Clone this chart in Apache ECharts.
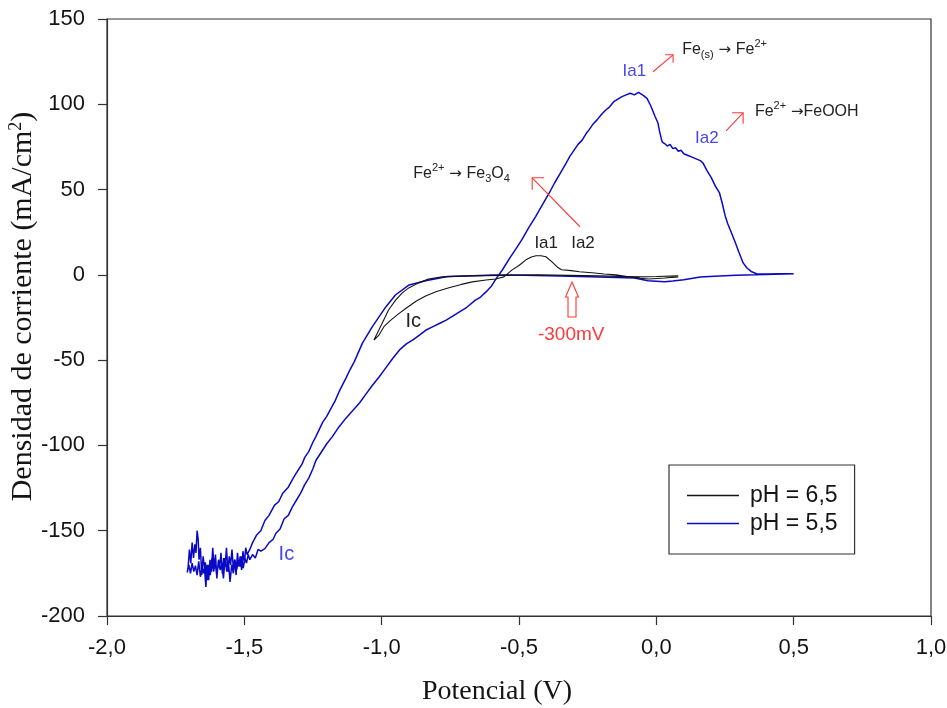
<!DOCTYPE html>
<html><head><meta charset="utf-8">
<script src="https://cdn.jsdelivr.net/npm/echarts@6/dist/echarts.min.js"></script>
<style>html,body{margin:0;padding:0;background:#fff}#c{width:947px;height:708px}</style>
</head><body><div id="c"></div>
<script>
// ---------- data ----------
const xTickValues = [-2.0, -1.5, -1.0, -0.5, 0.0, 0.5, 1.0];
const yTickValues = [-200, -150, -100, -50, 0, 50, 100, 150];
const seriesNames = ['pH = 6,5', 'pH = 5,5'];

// pH 6,5 cyclic voltammogram (black)
const ph65Potential = [0.08,0.00,-0.06,-0.21,-0.43,-0.69,-0.78,-0.83,-0.865,-0.90,-0.925,-0.95,-0.975,-1.00,-1.028,
  -1.01,-0.99,-0.97,-0.94,-0.91,-0.875,-0.84,-0.80,-0.755,-0.71,-0.67,-0.62,-0.585,-0.555,-0.525,-0.50,-0.475,-0.455,-0.438,-0.42,-0.402,-0.38,-0.36,-0.345,-0.31,-0.28,-0.234,-0.19,-0.147,-0.10,-0.06,-0.027,0.03,0.08];
const ph65Current = [-0.6,-1.0,-1.2,-0.6,0.0,-0.6,-1.2,-2.5,-4.7,-7.5,-10.6,-15.0,-20.6,-29.0,-38.2,
  -35.3,-30.0,-27.0,-23.0,-19.4,-15.5,-12.4,-9.8,-7.6,-5.6,-4.1,-3.0,-2.4,-1.2,2.9,5.5,8.8,10.5,11.2,11.2,10.6,7.6,4.5,3.0,2.5,1.8,1.2,0.5,0.0,-1.2,-2.0,-2.4,-1.8,-1.2];

// pH 5,5 cyclic voltammogram (blue)
const ph55Potential = [0.50,0.43,0.36,0.29,0.23,0.16,0.10,0.06,0.03,-0.03,-0.08,-0.21,-0.35,-0.57,-0.69,-0.76,-0.84,-0.90,-0.95,-0.985,-1.035,-1.07,
  -1.10,-1.115,-1.13,-1.155,-1.17,-1.18,-1.20,-1.215,-1.24,-1.25,-1.265,-1.28,-1.29,-1.31,-1.325,-1.34,-1.36,-1.375,-1.39,-1.41,-1.425,-1.44,-1.455,-1.47,-1.48,-1.49,
  -1.495,-1.50,-1.505,-1.51,-1.515,-1.52,-1.525,-1.53,-1.535,-1.54,-1.545,-1.55,-1.555,-1.56,-1.565,-1.57,-1.575,-1.58,-1.585,-1.59,-1.595,-1.60,-1.605,-1.61,-1.615,-1.62,-1.625,-1.63,-1.635,-1.64,-1.645,-1.65,-1.655,-1.66,-1.665,-1.668,-1.672,-1.676,-1.68,-1.685,-1.69,-1.695,-1.70,-1.705,-1.71,
  -1.708,-1.702,-1.696,-1.69,-1.684,-1.678,-1.672,-1.666,-1.66,-1.654,-1.648,-1.642,-1.636,-1.63,-1.624,-1.618,-1.612,-1.606,-1.6,-1.594,-1.588,-1.582,-1.576,-1.57,-1.564,-1.558,-1.552,-1.546,-1.54,-1.534,-1.528,-1.522,-1.516,-1.51,-1.504,-1.498,-1.492,-1.486,-1.48,-1.47,-1.46,-1.45,-1.44,
  -1.425,-1.41,-1.395,-1.385,-1.37,-1.355,-1.34,-1.325,-1.31,-1.295,-1.28,-1.265,-1.25,-1.24,-1.22,-1.20,-1.18,-1.155,-1.13,-1.105,-1.08,-1.06,-1.035,-1.01,-0.985,-0.96,-0.935,-0.91,-0.885,-0.86,-0.84,-0.815,-0.79,-0.765,-0.74,-0.715,-0.69,-0.66,-0.64,-0.62,-0.60,-0.58,
  -0.56,-0.535,-0.51,-0.49,-0.465,-0.44,-0.415,-0.39,-0.37,-0.35,-0.33,-0.315,-0.30,-0.285,-0.27,-0.255,-0.245,-0.23,-0.215,-0.20,-0.185,-0.17,-0.155,-0.14,-0.125,-0.11,-0.095,-0.08,-0.065,-0.05,
  -0.034,-0.02,-0.005,0.006,0.012,0.021,0.03,0.04,0.05,0.06,0.07,0.08,0.09,0.10,0.115,0.13,0.145,0.16,0.17,0.185,0.20,0.215,0.23,0.24,0.25,0.26,0.27,0.285,0.30,0.316,0.33,0.345,0.367,0.40,0.45,0.50];
const ph55Current = [0.6,0.3,0.0,-0.3,-0.6,-1.2,-2.9,-3.6,-4.1,-3.5,-1.8,-1.2,-0.6,0.0,-0.6,-1.0,-3.5,-5.9,-11.8,-18.8,-30.6,-40.0,
  -51.0,-55.5,-60.5,-68.5,-74.0,-77.0,-83.0,-86.5,-95.0,-98.0,-103.5,-107.0,-111.0,-116.0,-120.0,-124.5,-128.0,-133.0,-135.0,-141.0,-144.0,-150.0,-152.5,-157.0,-161.0,-164.0,
  -160.0,-169.0,-162.0,-173.0,-165.0,-171.0,-163.0,-176.0,-167.0,-172.0,-161.0,-170.0,-165.0,-174.0,-160.0,-171.0,-166.0,-175.0,-163.0,-172.0,-168.0,-178.0,-164.0,-172.0,-160.0,-174.0,-167.0,-179.0,-170.0,-183.0,-172.0,-165.0,-176.0,-160.0,-167.0,-155.0,-150.0,-163.0,-158.0,-166.0,-157.0,-169.0,-161.0,-172.0,-173.0,
  -174.5,-170.0,-175.0,-169.0,-174.0,-170.5,-176.0,-168.0,-177.0,-171.0,-175.0,-168.5,-179.0,-170.0,-176.0,-166.0,-174.0,-169.0,-177.0,-167.0,-173.0,-170.0,-178.0,-166.0,-174.0,-168.0,-180.0,-170.0,-175.0,-167.0,-173.0,-168.0,-171.0,-165.0,-172.0,-166.0,-169.0,-164.0,-167.0,-164.0,-166.0,-161.0,-162.0,
  -160.5,-157.0,-155.0,-151.5,-149.0,-143.0,-141.0,-136.0,-132.0,-128.0,-123.0,-119.0,-113.5,-109.0,-104.0,-99.0,-95.0,-89.0,-84.0,-79.5,-75.0,-70.5,-65.0,-60.0,-54.5,-49.0,-44.0,-40.5,-38.0,-35.0,-32.5,-30.5,-28.5,-26.5,-24.0,-21.5,-19.0,-15.0,-13.0,-10.0,-6.5,-1.5,
  3.0,9.5,15.5,20.5,27.5,34.0,41.0,48.0,54.0,59.5,65.0,69.5,73.0,76.5,79.0,83.0,85.0,88.5,91.0,94.0,96.5,98.5,101.5,103.0,104.5,105.5,106.5,105.5,107.0,105.5,
  103.5,99.0,93.0,89.0,84.0,78.0,77.0,75.5,76.5,74.0,74.5,72.5,73.0,71.0,70.0,69.0,68.0,67.0,65.5,61.0,57.0,52.0,48.0,42.0,35.0,30.0,26.0,20.0,13.5,7.0,4.0,2.0,0.5,0.5,0.6,0.6];

// ---------- styling ----------
const BLUE_LINE = '#0a0ac4';
const BLUE_TEXT = '#4646f0';
const RED = '#ff3838';
const INK = '#141414';
const SANS = '"Liberation Sans", Arial, sans-serif';
const SERIF = '"Liberation Serif", "Times New Roman", serif';

const zip = (xs, ys) => xs.map((x, i) => [x, ys[i]]);

const chart = echarts.init(document.getElementById('c'), null, {renderer: 'canvas'});

chart.setOption({
  animation: false,
  backgroundColor: '#fff',
  grid: {left: 107, right: 16, top: 19, bottom: 92, containLabel: false, outerBoundsMode: 'none',
         show: true, borderColor: '#333', borderWidth: 1.2, backgroundColor: 'transparent'},
  xAxis: {
    type: 'value', min: xTickValues[0], max: xTickValues[xTickValues.length - 1], interval: 0.5,
    name: 'Potencial (V)', nameLocation: 'middle', nameGap: 62, nameMoveOverlap: false,
    nameTextStyle: {fontFamily: SERIF, fontSize: 28, color: INK, padding: [0, 44, 0, 0]},
    axisLine: {onZero: false, lineStyle: {color: '#333', width: 1.2}},
    axisTick: {inside: false, length: 9, lineStyle: {color: '#333', width: 1.2}},
    axisLabel: {margin: 21, fontFamily: SANS, fontSize: 22, color: INK, formatter: v => v.toFixed(1).replace('.', ',')},
    splitLine: {show: false}
  },
  yAxis: {
    type: 'value', min: yTickValues[0], max: yTickValues[yTickValues.length - 1], interval: 50,
    name: '{n|Densidad de corriente (mA/cm}{s|2}{n|)}', nameLocation: 'middle', nameGap: 68, nameMoveOverlap: false,
    nameTextStyle: {fontFamily: SERIF, fontSize: 30, color: INK, padding: [0, 0, 0, 22],
      rich: {n: {fontFamily: SERIF, fontSize: 30, color: INK, lineHeight: 32},
             s: {fontFamily: SERIF, fontSize: 18, color: INK, verticalAlign: 'top', lineHeight: 18}}},
    axisLine: {onZero: false, lineStyle: {color: '#333', width: 1.2}},
    axisTick: {inside: false, length: 9, lineStyle: {color: '#333', width: 1.2}},
    axisLabel: {margin: 22, fontFamily: SANS, fontSize: 22, color: INK},
    splitLine: {show: false}
  },
  legend: {
    data: seriesNames, orient: 'vertical', left: 669, top: 465,
    padding: [19, 17, 19, 18], itemGap: 5, itemWidth: 52, itemHeight: 1.6, icon: 'rect',
    borderColor: '#333', borderWidth: 1.2, backgroundColor: '#fff',
    textStyle: {fontFamily: SANS, fontSize: 23, color: INK, padding: [0, 0, 0, 6]}
  },
  series: [
    {name: seriesNames[1], type: 'line', data: zip(ph55Potential, ph55Current), showSymbol: false, symbol: 'none',
     lineStyle: {color: BLUE_LINE, width: 1.5}, itemStyle: {color: BLUE_LINE}, z: 2},
    {name: seriesNames[0], type: 'line', data: zip(ph65Potential, ph65Current), showSymbol: false, symbol: 'none',
     lineStyle: {color: INK, width: 1.1}, itemStyle: {color: INK}, z: 3}
  ]
});

// ---------- annotations (anchored in data coordinates) ----------
const px = p => chart.convertToPixel({gridIndex: 0}, p);
const richSup = (size) => ({
  n: {fontFamily: SANS, fontSize: size, fill: '#222', lineHeight: size + 6},
  a: {fontFamily: '"DejaVu Sans", sans-serif', fontSize: size - 1, fill: '#222', lineHeight: size + 6},
  sup: {fontFamily: SANS, fontSize: Math.round(size * 0.68), fill: '#222', verticalAlign: 'top', lineHeight: Math.round(size * 0.68)},
  sub: {fontFamily: SANS, fontSize: Math.round(size * 0.68), fill: '#222', verticalAlign: 'bottom', lineHeight: Math.round(size * 0.68)}
});
const g = [];
function label(text, at, color, size, align) {
  const p = px(at);
  g.push({type: 'text', x: p[0], y: p[1], z: 10,
    style: {text, fill: color, font: size + 'px ' + SANS, align: align || 'center', verticalAlign: 'middle'}});
}
function richLabel(text, at, size) {
  const p = px(at);
  g.push({type: 'text', x: p[0], y: p[1], z: 10,
    style: {text, align: 'left', verticalAlign: 'middle', rich: richSup(size), fill: '#222', font: size + 'px ' + SANS}});
}
function arrow(from, to, head) {
  const a = px(from), b = px(to);
  const sx = Math.sign(b[0] - a[0]), sy = Math.sign(b[1] - a[1]);
  g.push({type: 'polyline', z: 10, shape: {points: [a, b]}, style: {stroke: RED, lineWidth: 1.1, fill: null}});
  g.push({type: 'polyline', z: 10, shape: {points: [[b[0] - sx * head, b[1]], b, [b[0], b[1] - sy * head]]},
    style: {stroke: RED, lineWidth: 1.1, fill: null}});
}
function hollowUpArrow(tip, base) {
  const t = px(tip), b = px(base);
  const pts = [t, [t[0] + 6.5, t[1] + 15], [t[0] + 4, t[1] + 15], [t[0] + 4, b[1]], [t[0] - 4, b[1]], [t[0] - 4, t[1] + 15], [t[0] - 6.5, t[1] + 15]];
  g.push({type: 'polygon', z: 10, shape: {points: pts}, style: {stroke: RED, lineWidth: 1.1, fill: null}});
}

label('Ia1', [-0.080, 119.1], BLUE_TEXT, 17);
arrow([-0.012, 119.1], [0.061, 129.0], 8);
richLabel('{n|Fe}{sub|(s)}{a| → }{n|Fe}{sup|2+}', [0.094, 132.0], 16);

label('Ia2', [0.184, 80.3], BLUE_TEXT, 17);
arrow([0.254, 84.4], [0.316, 95.0], 11);
richLabel('{n|Fe}{sup|2+}{a| →}{n|FeOOH}', [0.359, 95.6], 16);

richLabel('{n|Fe}{sup|2+}{a| → }{n|Fe}{sub|3}{n|O}{sub|4}', [-0.885, 59.2], 16);
arrow([-0.278, 28.2], [-0.452, 56.9], 12);

label('Ia1', [-0.401, 18.6], '#222', 17);
label('Ia2', [-0.267, 18.6], '#222', 17);
label('Ic', [-0.885, -27.2], '#222', 20);
label('Ic', [-1.347, -163.9], BLUE_TEXT, 20);

hollowUpArrow([-0.307, -4.2], [-0.307, -24.7]);
label('-300mV', [-0.310, -35.3], RED, 19);

chart.setOption({graphic: g});
</script>
</body></html>
